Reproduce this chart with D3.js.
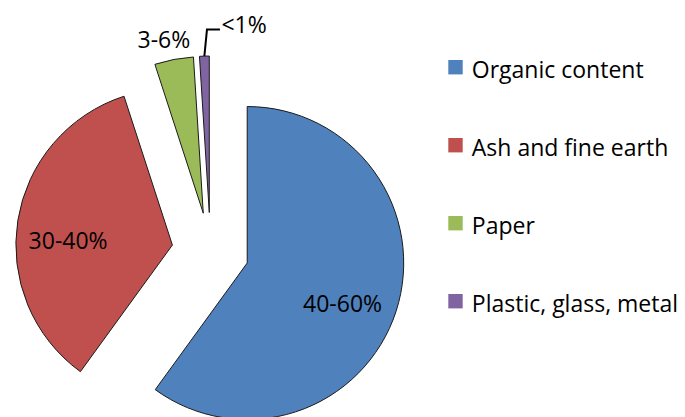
<!DOCTYPE html>
<html>
<head>
<meta charset="utf-8">
<script src="https://cdn.jsdelivr.net/npm/d3@7"></script>
<style>
  html, body { margin: 0; padding: 0; background: #fff; }
  svg { display: block; }
  text { font-family: "Open Sans", "Liberation Sans", sans-serif; fill: #000; }
</style>
</head>
<body>
<svg id="chart" width="685" height="417"></svg>
<script>
// ---- data ----
const categories = ["Organic content", "Ash and fine earth", "Paper", "Plastic, glass, metal"];
const values = [60, 35, 4, 1];
const labels = ["40-60%", "30-40%", "3-6%", "<1%"];
const colors = ["#4F81BD", "#C0504D", "#9BBB59", "#8064A2"];

// ---- layout ----
const W = 685, H = 417;
const cx = 210.5, cy = 251.1, R = 156.5, explode = 38.6;
const fontSize = 23;

const svg = d3.select("#chart");

const pie = d3.pie().sort(null).value(d => d)(values);
const arc = d3.arc().innerRadius(0).outerRadius(R);

const offset = d => {
  const m = (d.startAngle + d.endAngle) / 2;
  return [explode * Math.sin(m), -explode * Math.cos(m)];
};

const g = svg.append("g").attr("transform", `translate(${cx},${cy})`);

const slices = g.selectAll("g.slice").data(pie).join("g")
  .attr("class", "slice")
  .attr("transform", d => { const o = offset(d); return `translate(${o[0]},${o[1]})`; });

slices.append("path")
  .attr("d", arc)
  .attr("fill", (d, i) => colors[i])
  .attr("stroke", "#1a1a1a")
  .attr("stroke-width", 1)
  .attr("stroke-linejoin", "miter");

// label placement: polar from each exploded slice vertex (angle deg, radius px)
const labelPolar = [
  { ang: 112.9, r: 103.5, anchor: "middle", dy: 8.5 },
  { ang: 272.7, r: 104.4, anchor: "middle", dy: 8.5 },
  { ang: 347.2, r: 177.7, anchor: "middle", dy: 8.5 },
  null
];

slices.each(function (d, i) {
  const s = d3.select(this);
  const lp = labelPolar[i];
  if (lp) {
    const a = lp.ang * Math.PI / 180;
    s.append("text")
      .attr("x", lp.r * Math.sin(a))
      .attr("y", -lp.r * Math.cos(a) + lp.dy)
      .attr("text-anchor", lp.anchor)
      .attr("font-size", fontSize)
      .text(labels[i]);
  } else {
    // leader line from outer arc midpoint
    const m = (d.startAngle + d.endAngle) / 2;
    const x0 = R * Math.sin(m), y0 = -R * Math.cos(m);
    const x1 = x0 + 2.6, y1 = y0 - 26.5;
    const x2 = x1 + 13;
    s.append("path")
      .attr("d", `M${x0},${y0}L${x1},${y1}L${x2},${y1}`)
      .attr("fill", "none")
      .attr("stroke", "#000")
      .attr("stroke-width", 2);
    s.append("text")
      .attr("x", x2 + 1.5)
      .attr("y", y1 + 3)
      .attr("text-anchor", "start")
      .attr("font-size", fontSize)
      .text(labels[i]);
  }
});

// ---- legend ----
const legendX = 448.3, legendY0 = 60, legendStep = 78, sq = 14.4;
const leg = svg.append("g");
const items = leg.selectAll("g").data(categories).join("g")
  .attr("transform", (d, i) => `translate(${legendX},${legendY0 + i * legendStep})`);
items.append("rect")
  .attr("width", sq).attr("height", sq)
  .attr("fill", (d, i) => colors[i]);
items.append("text")
  .attr("x", 23.5)
  .attr("y", 18.3)
  .attr("font-size", fontSize)
  .text(d => d);
</script>
</body>
</html>
